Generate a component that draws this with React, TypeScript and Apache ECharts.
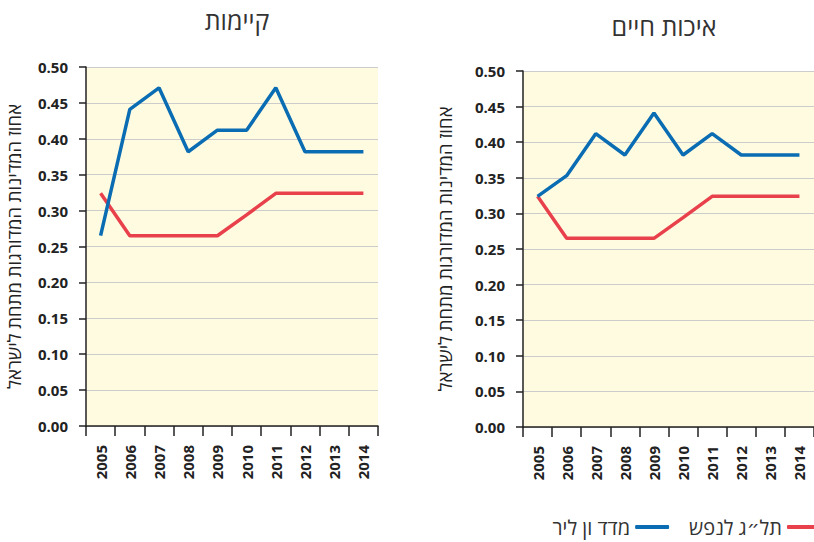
import React, { useEffect, useRef } from "react";
import * as echarts from "echarts";

const years = ["2005", "2006", "2007", "2008", "2009", "2010", "2011", "2012", "2013", "2014"];
const sustainVanLeer = [0.265, 0.441, 0.471, 0.382, 0.412, 0.412, 0.471, 0.382, 0.382, 0.382];
const sustainGdp = [0.324, 0.265, 0.265, 0.265, 0.265, 0.294, 0.324, 0.324, 0.324, 0.324];
const lifeVanLeer = [0.324, 0.353, 0.412, 0.382, 0.441, 0.382, 0.412, 0.382, 0.382, 0.382];
const lifeGdp = [0.324, 0.265, 0.265, 0.265, 0.265, 0.294, 0.324, 0.324, 0.324, 0.324];
const yTicks = { min: 0, max: 0.5, interval: 0.05 };

const seriesVanLeer = "מדד ון ליר";
const seriesGdp = "תל״ג לנפש";
const titles = ["קיימות", "איכות חיים"];
const yName = "אחוז המדינות המדורגות מתחת לישראל";

const BLUE = "#0a6db3";
const RED = "#e8414c";
const FONT = "'Open Sans', 'DejaVu Sans', sans-serif";

export default function App() {
  const ref = useRef<HTMLDivElement>(null);
  useEffect(() => {
    if (!ref.current) return;
    const chart = echarts.init(ref.current, undefined, { renderer: "svg" });
    const mkX = (gi: number) => ({
      type: "category",
      gridIndex: gi,
      data: years,
      boundaryGap: true,
      axisLine: { lineStyle: { color: "#222", width: 1.5 } },
      axisTick: { show: true, length: 10, lineStyle: { color: "#222", width: 1.5 } },
      axisLabel: {
        rotate: 90,
        margin: 19,
        fontSize: 15,
        fontWeight: "bold",
        color: "#222",
        fontFamily: FONT,
        interval: 0,
      },
    });
    const mkY = (gi: number, gap: number) => ({
      type: "value",
      gridIndex: gi,
      min: yTicks.min,
      max: yTicks.max,
      interval: yTicks.interval,
      name: yName,
      nameLocation: "middle",
      nameGap: gap,
      nameTextStyle: { fontSize: 18.5, color: "#222", fontFamily: FONT },
      axisLine: { show: true, lineStyle: { color: "#222", width: 1.5 } },
      axisTick: { show: true, length: 7, lineStyle: { color: "#222", width: 1.5 } },
      splitLine: { show: true, lineStyle: { color: "#cccccc", width: 1 } },
      axisLabel: {
        margin: 18,
        fontSize: 15,
        fontWeight: "bold",
        color: "#222",
        fontFamily: FONT,
        formatter: (v: number) => v.toFixed(2),
      },
    });
    const line = (name: string, data: number[], color: string, gi: number) => ({
      type: "line",
      name,
      xAxisIndex: gi,
      yAxisIndex: gi,
      data,
      showSymbol: false,
      symbol: "none",
      lineStyle: { color, width: 3.5 },
      itemStyle: { color },
      z: name === seriesVanLeer ? 3 : 2,
    });
    chart.setOption({
      animation: false,
      textStyle: { fontFamily: FONT },
      title: [
        {
          text: titles[0],
          left: 232,
          top: 2,
          textAlign: "center",
          textStyle: { fontSize: 25, fontWeight: "normal", color: "#333", fontFamily: FONT },
        },
        {
          text: titles[1],
          left: 659,
          top: 8,
          textAlign: "center",
          textStyle: { fontSize: 25, fontWeight: "normal", color: "#333", fontFamily: FONT },
        },
      ],
      grid: [
        { left: 86, top: 67, width: 292, height: 359, show: true, backgroundColor: "#fffbe0", borderWidth: 0 },
        { left: 523, top: 71, width: 295, height: 356, show: true, backgroundColor: "#fffbe0", borderWidth: 0 },
      ],
      xAxis: [mkX(0), mkX(1)],
      yAxis: [mkY(0, 63), mkY(1, 69)],
      legend: {
        data: [seriesVanLeer, seriesGdp],
        right: -12,
        bottom: 0,
        align: "right",
        icon: "roundRect",
        itemWidth: 34,
        itemHeight: 4,
        itemGap: 20,
        textStyle: { fontSize: 20, color: "#333", fontFamily: FONT },
      },
      series: [
        line(seriesGdp, sustainGdp, RED, 0),
        line(seriesVanLeer, sustainVanLeer, BLUE, 0),
        line(seriesGdp, lifeGdp, RED, 1),
        line(seriesVanLeer, lifeVanLeer, BLUE, 1),
      ],
    });
    return () => chart.dispose();
  }, []);
  return <div ref={ref} style={{ width: 814, height: 542, position: "absolute", left: 0, top: 0 }} />;
}
